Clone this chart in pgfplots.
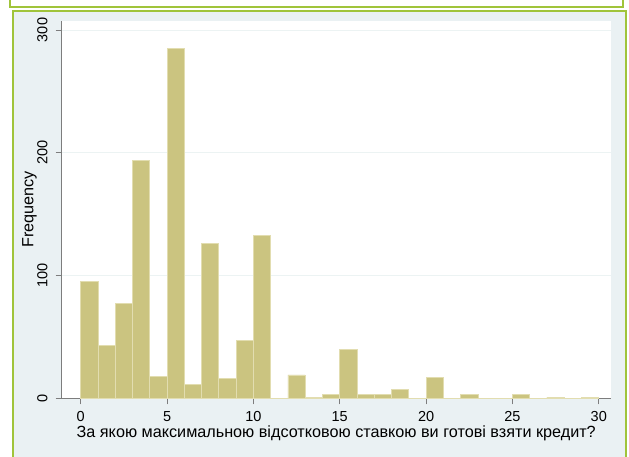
\documentclass[border=0pt]{standalone}
\usepackage{pgfplots}
\pgfplotsset{compat=1.18}
\usepackage{fontspec}
\setmainfont{Liberation Sans}

\definecolor{stgreen}{RGB}{160,196,58}
\definecolor{panelbg}{RGB}{234,241,243}
\definecolor{barfill}{RGB}{203,196,128}
\definecolor{baredge}{RGB}{226,221,176}
\definecolor{gridc}{RGB}{236,243,243}
\definecolor{axisc}{RGB}{125,125,125}

\newcommand{\tickfont}{\fontsize{14.5}{16}\selectfont}
\newcommand{\lblfont}{\fontsize{16.2}{18}\selectfont}

\begin{document}
\begin{tikzpicture}[x=1pt,y=1pt]
% Stata-style graph region: white strip on top, light panel with green frame
\begin{scope}
  \clip (0,0) rectangle (629,457);
  \fill[white] (0,0) rectangle (629,457);
  \draw[stgreen, line width=2pt] (10,450) rectangle (623,470);
  \filldraw[fill=panelbg, draw=stgreen, line width=2pt] (12.7,-10) rectangle (626,446);
\end{scope}
\begin{axis}[
  at={(61.7pt,58.7pt)}, anchor=south west,
  scale only axis, width=549pt, height=377.6pt,
  xmin=-1.1, xmax=30.69, ymin=0, ymax=307.6,
  axis x line*=bottom, axis y line*=left,
  axis line style={axisc, line width=1pt},
  axis background/.style={fill=white},
  xtick={0,5,...,30}, ytick={0,100,200,300},
  tick align=outside, major tick length=6pt,
  tick style={axisc, line width=0.8pt},
  ymajorgrids, grid style={gridc, line width=1pt},
  /pgf/number format/assume math mode=true,
  tick label style={font=\tickfont},
  xticklabel style={anchor=base, yshift=-17.1pt},
  yticklabel style={rotate=90, anchor=base},
  yticklabel shift=8.4pt,
  label style={font=\lblfont},
  xlabel={За якою максимальною відсотковою ставкою ви готові взяти кредит?},
  xlabel style={at={(axis description cs:0.5,-0.1043)}, anchor=base},
  ylabel={Frequency},
  ylabel style={at={(axis description cs:-0.0514,0.5)}, anchor=base},
]
\addplot[ybar interval, fill=barfill, draw=baredge, line width=0.8pt] coordinates {
  (0,95) (1,43) (2,77) (3,194) (4,18) (5,285) (6,11) (7,126) (8,16) (9,47)
  (10,133) (11,0) (12,19) (13,1) (14,3) (15,40) (16,3) (17,3) (18,7) (19,0)
  (20,17) (21,0) (22,3) (23,0) (24,0) (25,3) (26,0) (27,1) (28,0) (29,1)
  (30,0)
};
\end{axis}
\pgfresetboundingbox
\useasboundingbox (0,0) rectangle (629,457);
\end{tikzpicture}
\end{document}
